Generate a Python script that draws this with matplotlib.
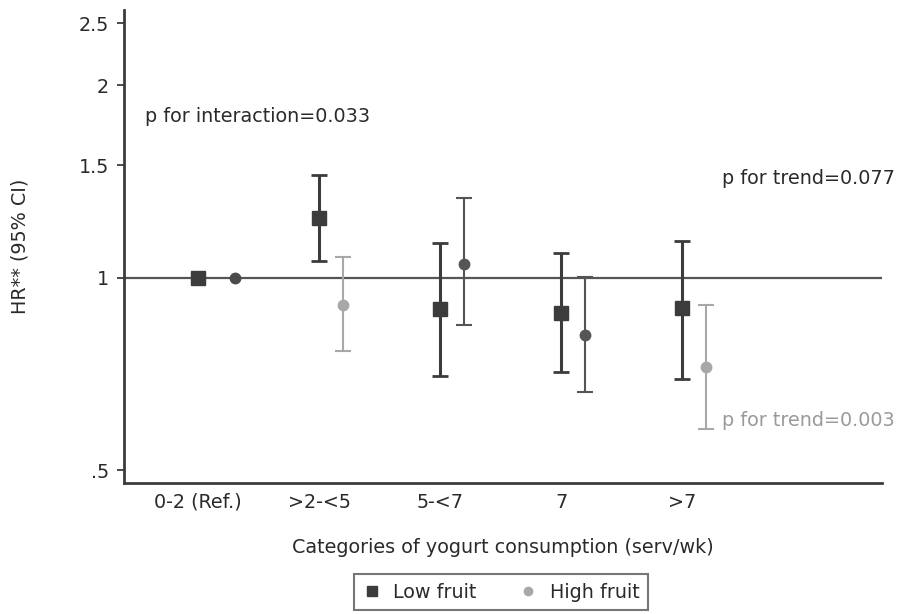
import numpy as np
import matplotlib.pyplot as plt

plt.rcParams['font.family'] = ['DejaVu Sans']

categories = ['0-2 (Ref.)', '>2-<5', '5-<7', '7', '>7']

# hazard ratios with 95% CI, low fruit intake
low_hr = [1.00, 1.24, 0.894, 0.882, 0.898]
low_lo = [1.00, 1.063, 0.703, 0.713, 0.695]
low_hi = [1.00, 1.448, 1.134, 1.094, 1.142]

# hazard ratios with 95% CI, high fruit intake
high_hr = [1.00, 0.907, 1.052, 0.815, 0.726]
high_lo = [1.00, 0.769, 0.845, 0.664, 0.581]
high_hi = [1.00, 1.078, 1.333, 1.004, 0.907]

x_low = np.arange(1, len(categories) + 1, dtype=float)
x_high = x_low + np.array([0.31, 0.2, 0.2, 0.2, 0.2])

dark = '#3c3c3c'
light = '#a8a8a8'
high_cols = ['#4a4a4a', light, '#555555', '#555555', light]
txt = '#2a2a2a'
fs = 13.8

fig = plt.figure(figsize=(9, 6.14), dpi=100)
ax = fig.add_axes([0.1378, 0.2134, 0.8422, 0.7703])

ax.axhline(1, color='#555555', lw=1.6, zorder=1)

for i in range(len(categories)):
    if low_lo[i] != low_hi[i]:
        ax.errorbar(x_low[i], low_hr[i],
                    yerr=[[low_hr[i] - low_lo[i]], [low_hi[i] - low_hr[i]]],
                    fmt='none', ecolor=dark, elinewidth=2.2, capsize=5.5, capthick=2, zorder=2)
    ax.plot(x_low[i], low_hr[i], 's', color=dark, ms=10, zorder=3)

    if high_lo[i] != high_hi[i]:
        ax.errorbar(x_high[i], high_hr[i],
                    yerr=[[high_hr[i] - high_lo[i]], [high_hi[i] - high_hr[i]]],
                    fmt='none', ecolor=high_cols[i], elinewidth=1.5, capsize=5.5, capthick=1.5, zorder=2)
    ax.plot(x_high[i], high_hr[i], 'o', color=high_cols[i], ms=7.5, zorder=3)

ax.set_yscale('log')
ax.set_ylim(0.478, 2.62)
ax.set_xlim(0.39, 6.65)

ax.set_yticks([0.5, 1, 1.5, 2, 2.5])
ax.set_yticklabels(['.5', '1', '1.5', '2', '2.5'])
ax.yaxis.set_minor_locator(plt.NullLocator())
ax.set_xticks(x_low)
ax.set_xticklabels(categories)

ax.tick_params(axis='y', length=5, width=1.3, color=dark, labelsize=fs, labelcolor=txt, pad=6)
ax.tick_params(axis='x', length=0, labelsize=fs, labelcolor=txt, pad=7)

for side in ['top', 'right']:
    ax.spines[side].set_visible(False)
for side in ['left', 'bottom']:
    ax.spines[side].set_color(dark)
    ax.spines[side].set_linewidth(2)

ax.set_ylabel('HR** (95% CI)', fontsize=fs, color=txt)
ax.yaxis.set_label_coords(-0.125, 0.5)
ax.set_xlabel('Categories of yogurt consumption (serv/wk)', fontsize=fs, color=txt, labelpad=19)

fig.text(145 / 900, 1 - 117 / 614, 'p for interaction=0.033', fontsize=fs, color=txt, va='center')
fig.text(895 / 900, 1 - 178 / 614, 'p for trend=0.077', fontsize=fs, color=txt, va='center', ha='right')
fig.text(895 / 900, 1 - 420 / 614, 'p for trend=0.003', fontsize=fs, color='#9a9a9a', va='center', ha='right')

h1, = ax.plot([], [], 's', color=dark, ms=7)
h2, = ax.plot([], [], 'o', color=light, ms=6)
leg = fig.legend([h1, h2], ['Low fruit', 'High fruit'], loc='center',
                 bbox_to_anchor=(501 / 900, 1 - 592 / 614), ncol=2, fontsize=fs,
                 frameon=True, fancybox=False, handletextpad=0.6, columnspacing=2.2,
                 handlelength=1.0, borderpad=0.45)
leg.get_frame().set_edgecolor('#555555')
leg.get_frame().set_linewidth(1.5)
for t in leg.get_texts():
    t.set_color(txt)

fig.savefig('out.png', dpi=100)
